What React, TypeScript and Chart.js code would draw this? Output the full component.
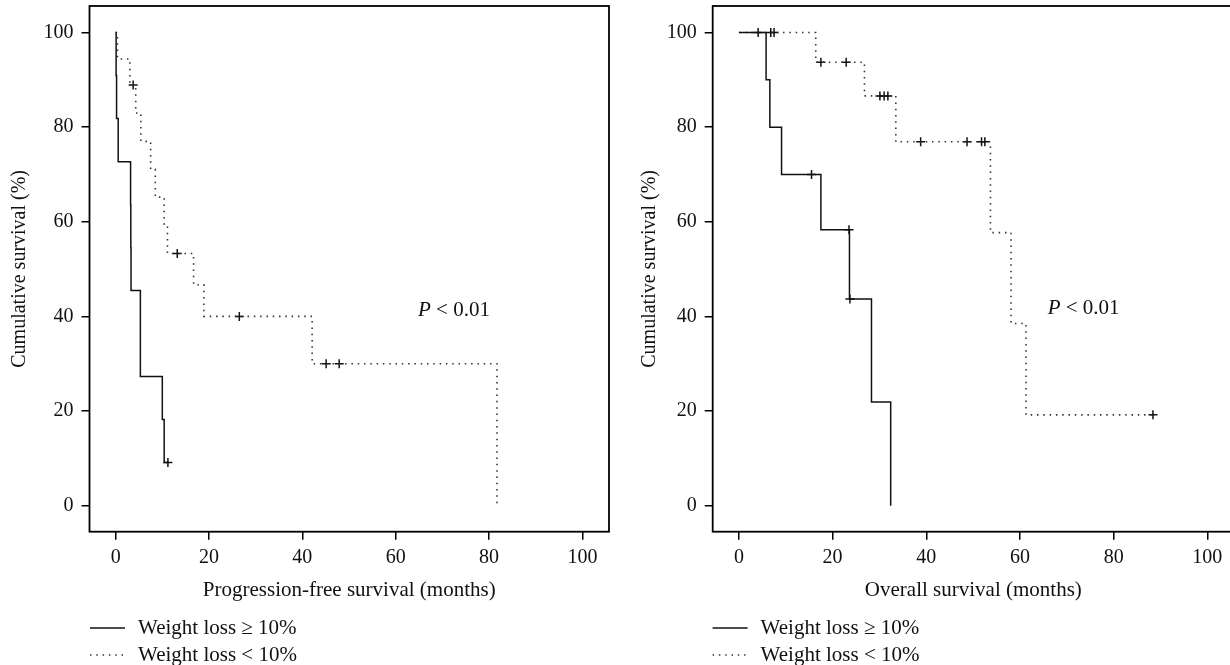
import React, { useEffect, useRef } from "react";
import { Chart, registerables } from "chart.js";

Chart.register(...registerables);

// ---------- data ----------
const X_TICKS = [0, 20, 40, 60, 80, 100];
const Y_TICKS = [0, 20, 40, 60, 80, 100];
const X_MIN = -5.6;
const X_MAX = 105.7;
const Y_MIN = -5.5;
const Y_MAX = 105.6;

const LEGEND_LABELS = ["Weight loss \u2265 10%", "Weight loss < 10%"];
const P_LABEL = ["P", " < 0.01"];

// Progression-free survival
const PFS_HIGH_T = [0, 0.1, 0.2, 0.55, 3.2, 3.25, 3.3, 5.3, 10.0, 10.4, 11.2];
const PFS_HIGH_S = [100, 90.9, 81.8, 72.7, 63.6, 54.5, 45.5, 27.3, 18.2, 9.1, 9.1];
const PFS_HIGH_CENS_T = [11.2];
const PFS_HIGH_CENS_S = [9.1];

const PFS_LOW_T = [0, 0.4, 3.05, 4.3, 5.4, 7.5, 8.5, 10.4, 11.1, 16.7, 18.9, 42.1, 81.7];
const PFS_LOW_S = [100, 94.4, 88.9, 83.0, 77.0, 71.1, 65.2, 59.3, 53.3, 46.7, 40.0, 30.0, 0];
const PFS_LOW_CENS_T = [3.75, 13.2, 26.5, 45.1, 47.9];
const PFS_LOW_CENS_S = [88.9, 53.3, 40.0, 30.0, 30.0];

// Overall survival
const OS_HIGH_T = [0, 5.8, 6.6, 9.1, 17.5, 23.6, 28.3, 32.4];
const OS_HIGH_S = [100, 90, 80, 70, 58.3, 43.7, 21.9, 0];
const OS_HIGH_CENS_T = [4.1, 15.5, 23.5, 23.7];
const OS_HIGH_CENS_S = [100, 70, 58.3, 43.7];

const OS_LOW_T = [0, 16.4, 26.8, 33.5, 53.7, 58.1, 61.3, 88.4];
const OS_LOW_S = [100, 93.7, 86.6, 76.9, 57.7, 38.5, 19.2, 19.2];
const OS_LOW_CENS_T = [6.8, 7.5, 17.5, 22.9, 30.1, 31.0, 31.8, 38.8, 48.7, 51.8, 52.5, 88.4];
const OS_LOW_CENS_S = [100, 100, 93.7, 93.7, 86.6, 86.6, 86.6, 76.9, 76.9, 76.9, 76.9, 19.2];

// ---------- helpers ----------
const FONT = "'Liberation Serif', 'Times New Roman', serif";
const INK = "#111";

function pts(t: number[], s: number[]) {
  return t.map((x, i) => ({ x, y: s[i] }));
}

type PanelProps = {
  left: number;
  width: number;
  areaLeft: number;
  areaRight: number;
  xTitle: string;
  yTitlePad: number;
  highT: number[];
  highS: number[];
  highCT: number[];
  highCS: number[];
  lowT: number[];
  lowS: number[];
  lowCT: number[];
  lowCS: number[];
  pX: number;
  pY: number;
  legX: number;
};

const H = 665;
const AREA_TOP = 5.7;
const AREA_BOTTOM = 531.7;

function Panel(props: PanelProps) {
  const ref = useRef<HTMLCanvasElement | null>(null);
  useEffect(() => {
    if (!ref.current) return;
    const p = props;
    const overlay = {
      id: "overlay",
      afterDraw(chart: any) {
        const { ctx, chartArea: a } = chart;
        ctx.save();
        ctx.strokeStyle = "#000";
        ctx.lineWidth = 1.8;
        ctx.setLineDash([]);
        ctx.strokeRect(a.left, a.top, a.right - a.left, a.bottom - a.top);
        // P value
        ctx.fillStyle = INK;
        ctx.textBaseline = "middle";
        ctx.textAlign = "left";
        ctx.font = `italic 21px ${FONT}`;
        ctx.fillText(P_LABEL[0], p.pX, p.pY);
        const w = ctx.measureText(P_LABEL[0]).width;
        ctx.font = `21px ${FONT}`;
        ctx.fillText(P_LABEL[1], p.pX + w, p.pY);
        // legend
        const rows = [628, 655];
        rows.forEach((y, i) => {
          ctx.beginPath();
          ctx.strokeStyle = i === 0 ? INK : "#333";
          ctx.lineWidth = 1.5;
          ctx.setLineDash(i === 0 ? [] : [1.5, 4.8]);
          ctx.moveTo(p.legX, y);
          ctx.lineTo(p.legX + 35, y);
          ctx.stroke();
          ctx.setLineDash([]);
          ctx.fillStyle = INK;
          ctx.font = `21px ${FONT}`;
          ctx.fillText(LEGEND_LABELS[i], p.legX + 48, y);
        });
        ctx.restore();
      },
    };
    const chart = new Chart(ref.current, {
      type: "scatter",
      data: {
        datasets: [
          {
            type: "line",
            data: pts(p.highT, p.highS),
            stepped: true,
            borderColor: INK,
            borderWidth: 1.5,
            pointRadius: 0,
            fill: false,
          } as any,
          {
            type: "line",
            data: pts(p.lowT, p.lowS),
            stepped: true,
            borderColor: "#333",
            borderWidth: 1.6,
            borderDash: [1.5, 4.8],
            pointRadius: 0,
            fill: false,
          } as any,
          {
            type: "scatter",
            data: pts(p.highCT, p.highCS),
            pointStyle: "cross",
            pointRadius: 4.5,
            borderColor: INK,
            borderWidth: 1.5,
            showLine: false,
          } as any,
          {
            type: "scatter",
            data: pts(p.lowCT, p.lowCS),
            pointStyle: "cross",
            pointRadius: 4.5,
            borderColor: INK,
            borderWidth: 1.5,
            showLine: false,
          } as any,
        ],
      },
      options: {
        responsive: false,
        animation: false,
        events: [],
        layout: {
          padding: { top: AREA_TOP, left: 0, bottom: 0, right: p.width - p.areaRight },
        },
        plugins: { legend: { display: false }, tooltip: { enabled: false } },
        scales: {
          x: {
            type: "linear",
            min: X_MIN,
            max: X_MAX,
            afterBuildTicks: (s: any) => {
              s.ticks = X_TICKS.map((v) => ({ value: v }));
            },
            afterFit: (s: any) => {
              s.height = H - AREA_BOTTOM;
              s.paddingLeft = 0;
              s.paddingRight = 0;
            },
            grid: { drawOnChartArea: false, drawTicks: true, tickLength: 8, color: "#000", lineWidth: 1.5 },
            border: { display: false },
            ticks: {
              padding: 6,
              color: INK,
              font: { family: FONT, size: 20 },
              maxRotation: 0,
              autoSkip: false,
              callback: (v: any) => String(v),
            },
            title: {
              display: true,
              text: p.xTitle,
              color: INK,
              font: { family: FONT, size: 21 },
              padding: { top: 0, bottom: 62.4 },
            },
          },
          y: {
            type: "linear",
            min: Y_MIN,
            max: Y_MAX,
            afterBuildTicks: (s: any) => {
              s.ticks = Y_TICKS.map((v) => ({ value: v }));
            },
            afterFit: (s: any) => {
              s.width = p.areaLeft;
              s.paddingTop = 0;
              s.paddingBottom = 0;
            },
            grid: { drawOnChartArea: false, drawTicks: true, tickLength: 8, color: "#000", lineWidth: 1.5 },
            border: { display: false },
            ticks: {
              padding: 8,
              color: INK,
              font: { family: FONT, size: 20 },
              autoSkip: false,
              callback: (v: any) => String(v),
            },
            title: {
              display: true,
              text: "Cumulative survival (%)",
              color: INK,
              font: { family: FONT, size: 20 },
              padding: { top: p.yTitlePad, bottom: 0 },
            },
          },
        },
      },
      plugins: [overlay],
    } as any);
    return () => chart.destroy();
  }, []);
  return (
    <canvas
      ref={ref}
      width={props.width}
      height={H}
      style={{ position: "absolute", left: props.left, top: 0, width: props.width, height: H }}
    />
  );
}

export default function App() {
  return (
    <div
      style={{
        position: "fixed",
        left: 0,
        top: 0,
        width: 1230,
        height: 665,
        overflow: "hidden",
        background: "#fff",
      }}
    >
      <Panel
        left={0}
        width={615}
        areaLeft={89.5}
        areaRight={610.7}
        xTitle="Progression-free survival (months)"
        yTitlePad={8}
        highT={PFS_HIGH_T}
        highS={PFS_HIGH_S}
        highCT={PFS_HIGH_CENS_T}
        highCS={PFS_HIGH_CENS_S}
        lowT={PFS_LOW_T}
        lowS={PFS_LOW_S}
        lowCT={PFS_LOW_CENS_T}
        lowCS={PFS_LOW_CENS_S}
        pX={418}
        pY={310}
        legX={90}
      />
      <Panel
        left={620}
        width={620}
        areaLeft={92.7}
        areaRight={614.2}
        xTitle="Overall survival (months)"
        yTitlePad={18}
        highT={OS_HIGH_T}
        highS={OS_HIGH_S}
        highCT={OS_HIGH_CENS_T}
        highCS={OS_HIGH_CENS_S}
        lowT={OS_LOW_T}
        lowS={OS_LOW_S}
        lowCT={OS_LOW_CENS_T}
        lowCS={OS_LOW_CENS_S}
        pX={427.7}
        pY={308}
        legX={92.6}
      />
    </div>
  );
}
